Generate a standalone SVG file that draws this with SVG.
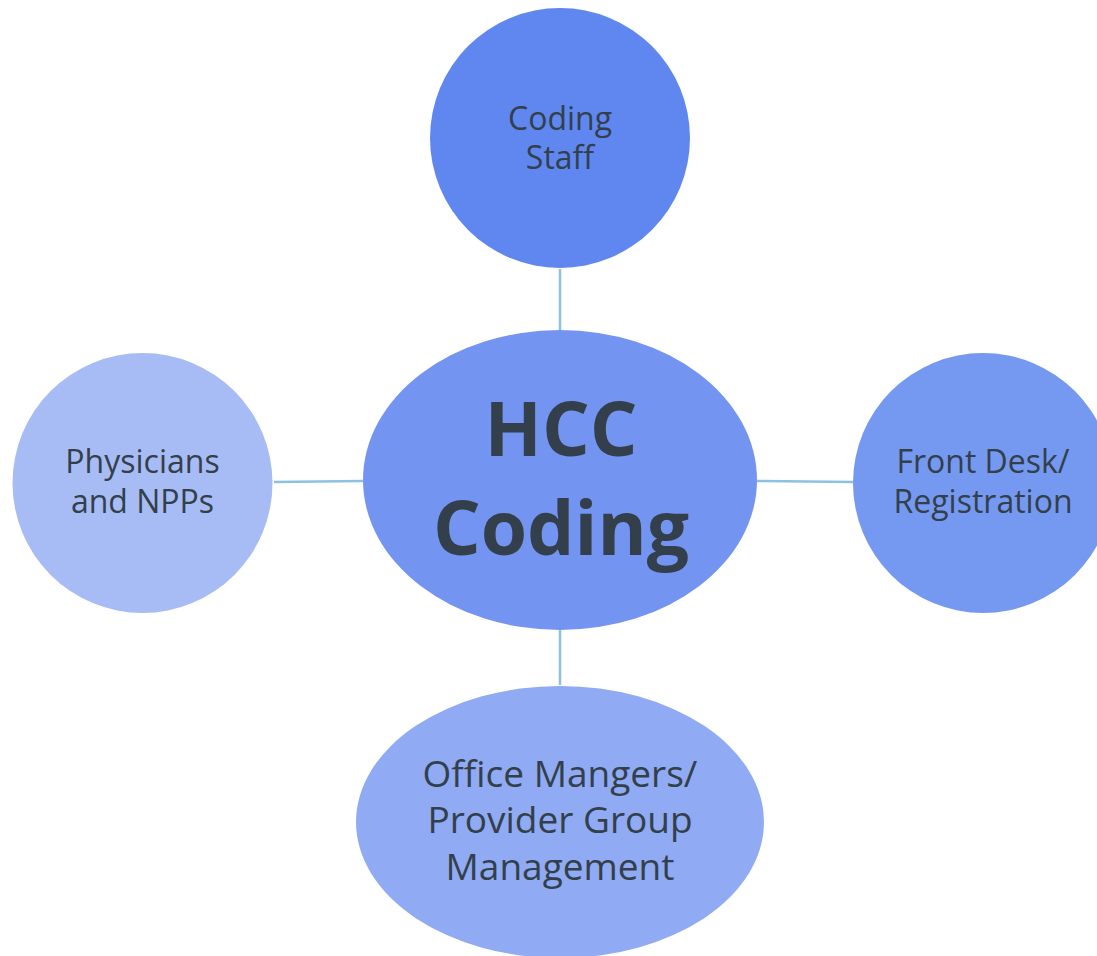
<svg xmlns="http://www.w3.org/2000/svg" width="1097" height="956" viewBox="0 0 1097 956">
<style>
.lbl{font-family:"Open Sans","Noto Sans",sans-serif;fill:#333F4B;text-anchor:middle;}
.sm{font-size:32px;}
.md{font-size:37px;}
.big{font-size:75px;font-weight:bold;}
.conn{stroke:#8DC1E2;stroke-width:2.5;fill:none;}
</style>
<rect width="1097" height="956" fill="#FFFFFF"/>
<g id="connectors">
<line class="conn" x1="560" y1="269" x2="560" y2="330"/>
<line class="conn" x1="274" y1="482" x2="363" y2="481"/>
<line class="conn" x1="757" y1="481" x2="853" y2="482"/>
<line class="conn" x1="560" y1="630" x2="560" y2="685"/>
</g>
<g id="coding-staff">
<circle cx="560" cy="138" r="130" fill="#5F87EF"/>
<text class="lbl sm" x="560" y="130">Coding</text>
<text class="lbl sm" x="560" y="169">Staff</text>
</g>
<g id="physicians">
<circle cx="142.5" cy="483" r="130" fill="#A7BCF5"/>
<text class="lbl sm" x="142.5" y="473">Physicians</text>
<text class="lbl sm" x="142.5" y="513">and NPPs</text>
</g>
<g id="front-desk">
<circle cx="983" cy="483" r="130" fill="#7599F0"/>
<text class="lbl sm" x="983" y="473">Front Desk/</text>
<text class="lbl sm" x="983" y="513">Registration</text>
</g>
<g id="office-managers">
<ellipse cx="560" cy="822" rx="204" ry="136" fill="#90ABF3"/>
<text class="lbl md" x="560" y="787">Office Mangers/</text>
<text class="lbl md" x="560" y="833">Provider Group</text>
<text class="lbl md" x="560" y="880">Management</text>
</g>
<g id="hcc-coding">
<ellipse cx="560" cy="480" rx="197" ry="150" fill="#7394F0"/>
<text class="lbl big" x="561" y="456">HCC</text>
<text class="lbl big" x="561" y="555">Coding</text>
</g>
</svg>
